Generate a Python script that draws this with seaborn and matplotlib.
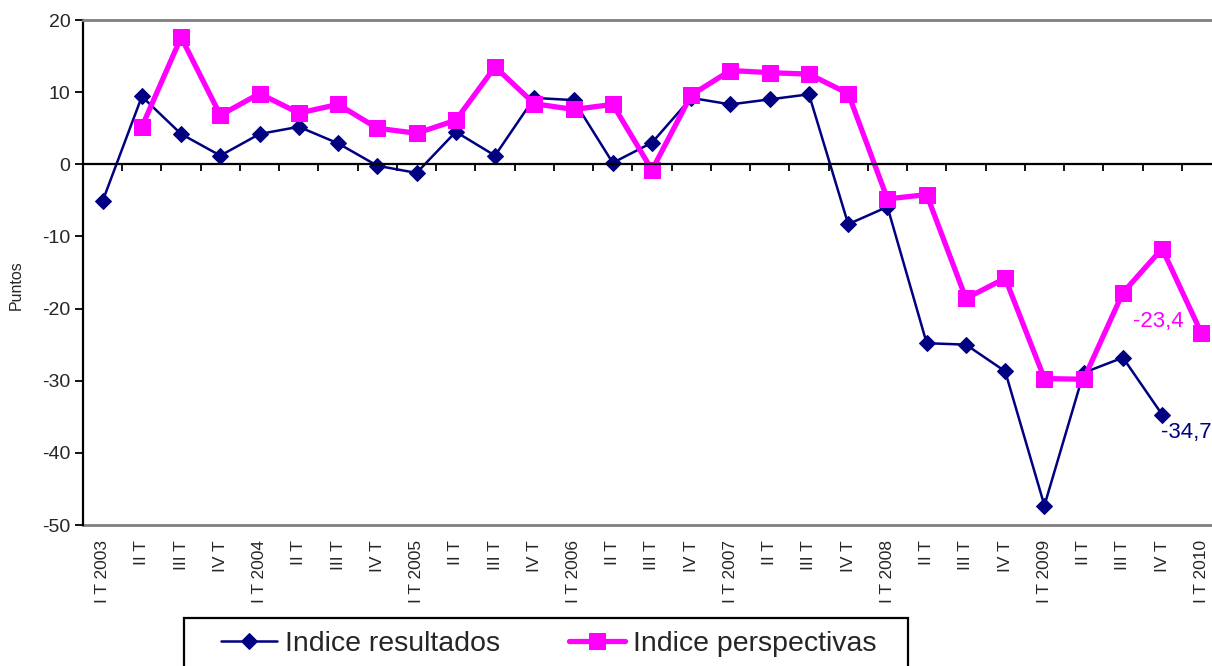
import numpy as np
import pandas as pd
import matplotlib
matplotlib.use('Agg')
import matplotlib.pyplot as plt
import seaborn as sns
from matplotlib.patches import Rectangle

# quarters from I T 2003 to I T 2010
trimestres = ['I T 2003', 'II T', 'III T', 'IV T',
              'I T 2004', 'II T', 'III T', 'IV T',
              'I T 2005', 'II T', 'III T', 'IV T',
              'I T 2006', 'II T', 'III T', 'IV T',
              'I T 2007', 'II T', 'III T', 'IV T',
              'I T 2008', 'II T', 'III T', 'IV T',
              'I T 2009', 'II T', 'III T', 'IV T',
              'I T 2010']

# Indice resultados: I T 2003 .. IV T 2009
resultados = [-5.1, 9.4, 4.2, 1.2, 4.2, 5.2, 2.9, -0.2, -1.2, 4.5, 1.2, 9.2,
              8.9, 0.2, 3.0, 9.2, 8.3, 9.0, 9.7, -8.3, -5.9, -24.8, -25.0,
              -28.7, -47.3, -28.9, -26.8, -34.7]

# Indice perspectivas: II T 2003 .. I T 2010
perspectivas = [5.2, 17.6, 6.8, 9.8, 7.1, 8.3, 5.0, 4.3, 6.1, 13.5, 8.4, 7.6,
                8.3, -0.8, 9.6, 13.0, 12.7, 12.5, 9.8, -4.8, -4.2, -18.6,
                -15.8, -29.7, -29.8, -17.8, -11.7, -23.4]

df_res = pd.DataFrame({'pos': range(len(resultados)), 'valor': resultados})
df_per = pd.DataFrame({'pos': range(1, len(perspectivas) + 1), 'valor': perspectivas})

sns.set_style('white')
plt.rcParams['font.family'] = ['Liberation Sans', 'DejaVu Sans']
plt.rcParams['axes.unicode_minus'] = False

navy = '#000080'
magenta = '#FF00FF'

fig = plt.figure(figsize=(12.12, 6.66), dpi=100)
ax = fig.add_axes([83 / 1212, 1 - 525 / 666, 1138 / 1212, 505 / 666])

sns.lineplot(data=df_res, x='pos', y='valor', ax=ax, color=navy, lw=1.8,
             marker='D', markersize=8.5, markeredgecolor=navy,
             label='Indice resultados')
sns.lineplot(data=df_per, x='pos', y='valor', ax=ax, color=magenta, lw=3.8,
             marker='s', markersize=12, markeredgecolor=magenta,
             label='Indice perspectivas')

ax.set_xlim(-0.5, len(trimestres) - 0.5)
ax.set_ylim(-50, 20)
ax.set_yticks(range(-50, 21, 10))
ax.tick_params(axis='y', direction='out', length=6, width=1.3, labelsize=14,
               color='black', left=True, pad=3)
ax.set_xlabel('')
ax.set_ylabel('Puntos', fontsize=11.5)
ax.yaxis.set_label_coords(-0.052, 0.475)

# category axis crossing at zero, with ticks between categories
ax.spines['bottom'].set_position(('data', 0))
ax.spines['bottom'].set_color('black')
ax.spines['bottom'].set_linewidth(1.6)
ax.set_xticks(np.arange(0.5, len(trimestres), 1))
ax.set_xticklabels([])
ax.tick_params(axis='x', direction='out', length=5, width=1.3, color='black', bottom=True)

ax.spines['left'].set_color('black')
ax.spines['left'].set_linewidth(1.6)
ax.spines['top'].set_color('#808080')
ax.spines['top'].set_linewidth(2)
ax.spines['right'].set_color('#808080')

# labels at the bottom of the plot area
sec = ax.secondary_xaxis('bottom')
sec.set_xticks(range(len(trimestres)), labels=trimestres, rotation=90, fontsize=12.5)
sec.tick_params(length=0, pad=11)
sec.spines['bottom'].set_color('#808080')
sec.spines['bottom'].set_linewidth(2)

# end value labels
ax.annotate('-23,4', xy=(len(trimestres) - 1, perspectivas[-1]), xytext=(-13, 8),
            textcoords='offset points', ha='right', va='center',
            color=magenta, fontsize=16)
ax.annotate('-34,7', xy=(len(resultados) - 1, resultados[-1]), xytext=(-1, -13),
            textcoords='offset points', ha='left', va='center',
            color=navy, fontsize=16)

handles, labels = ax.get_legend_handles_labels()
ax.get_legend().remove()
fig.legend(handles, labels, loc='center left',
           bbox_to_anchor=(221 / 1212, 1 - 644 / 666), frameon=False, ncol=2,
           fontsize=20.5, handlelength=1.97, handletextpad=0.28, columnspacing=2.4,
           borderpad=0, borderaxespad=0)
fig.add_artist(Rectangle((184 / 1212, -0.05), 724 / 1212, 1 - 618 / 666 + 0.05,
                         transform=fig.transFigure, fill=False, ec='black', lw=1.6))

fig.savefig('out.png', dpi=100)
